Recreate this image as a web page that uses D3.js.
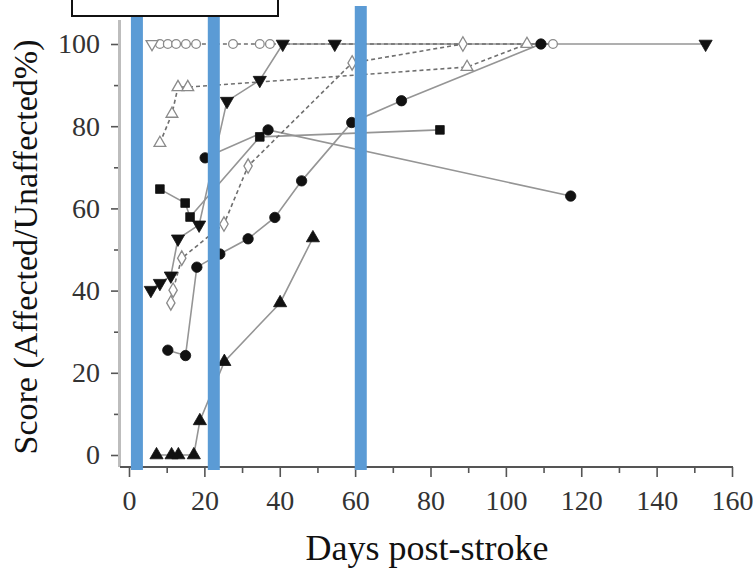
<!DOCTYPE html>
<html>
<head>
<meta charset="utf-8">
<script src="https://cdn.jsdelivr.net/npm/d3@7/dist/d3.min.js"></script>
<style>
  html, body { margin: 0; padding: 0; background: #fff; }
  svg { display: block; }
  svg text { font-family: "Liberation Serif", "Times New Roman", Times, "DejaVu Serif", serif; }
</style>
</head>
<body>
<svg id="chart" width="753" height="573"></svg>
<script>
// ---- data ----
const xTicks = [0, 20, 40, 60, 80, 100, 120, 140, 160];
const xMinorTicks = [10, 30, 50, 70, 90, 110, 130, 150];
const yTicks = [0, 20, 40, 60, 80, 100];
const yMinorTicks = [10, 30, 50, 70, 90];
const markerDays = [2.1, 22.5, 61.5];

// filled markers, solid lines
const s1Days = [7.3, 11.3, 13.1, 17.2, 18.8, 25.3, 40.1, 48.8];
const s1Vals = [0, 0, 0, 0, 8.3, 22.7, 37, 52.8];
const s2Days = [10.3, 15, 18, 24.1, 31.6, 38.7, 45.8, 59.1, 72.3, 109.3];
const s2Vals = [25.5, 24.2, 45.7, 48.9, 52.6, 57.8, 66.7, 80.9, 86.2, 100];
const s3Days = [5.8, 8.2, 11.1, 13, 18.6, 26, 34.7, 40.8, 54.6, 153];
const s3Vals = [40.1, 41.8, 43.6, 52.6, 56, 86.1, 91.2, 100, 100, 100];
const s4Days = [8.2, 14.9, 16.2, 34.7, 82.5];
const s4Vals = [64.7, 61.3, 57.9, 77.4, 79.1];
const s5Days = [20.2, 36.9, 117.2];
const s5Vals = [72.3, 79.1, 63];

// open markers, dashed lines
const d1Days = [11.1, 11.7, 14, 25.2, 31.6, 59.2, 88.6];
const d1Vals = [37, 40.1, 47.9, 56.2, 70.3, 95.4, 100];
const d2Days = [8.2, 11.4, 13, 15.6, 89.7, 105.6];
const d2Vals = [75.9, 83, 89.5, 89.5, 94.4, 100];
const d3Days = [8.2, 10.3, 12.5, 15.1, 17.8, 27.6, 34.7, 37.4, 112.5];
const d3Vals = [100, 100, 100, 100, 100, 100, 100, 100, 100];
const d4Days = [6.1];
const d4Vals = [100];

const series = [
  {days: s1Days, vals: s1Vals, sym: d3.symbolTriangle, filled: true, dashed: false},
  {days: s2Days, vals: s2Vals, sym: d3.symbolCircle, filled: true, dashed: false},
  {days: s3Days, vals: s3Vals, sym: "down", filled: true, dashed: false},
  {days: s4Days, vals: s4Vals, sym: d3.symbolSquare, filled: true, dashed: false},
  {days: s5Days, vals: s5Vals, sym: d3.symbolCircle, filled: true, dashed: false},
  {days: d1Days, vals: d1Vals, sym: d3.symbolDiamond, filled: false, dashed: true},
  {days: d2Days, vals: d2Vals, sym: d3.symbolTriangle, filled: false, dashed: true},
  {days: d3Days, vals: d3Vals, sym: d3.symbolCircle, filled: false, dashed: true},
  {days: d4Days, vals: d4Vals, sym: "down", filled: false, dashed: true}
];

const FONT = '"Liberation Serif", "Times New Roman", Times, "DejaVu Serif", serif';

// ---- layout ----
const svg = d3.select("#chart");
const x = d3.scaleLinear().domain([0, 160]).range([129, 732]);
const y = d3.scaleLinear().domain([0, 100]).range([455, 44]);
const axisY = 467, axisX = 118;

// lines
const line = d3.line().x(d => x(d[0])).y(d => y(d[1]));
series.forEach(s => {
  const pts = s.days.map((d, i) => [d, s.vals[i]]);
  svg.append("path")
    .attr("d", line(pts))
    .attr("fill", "none")
    .attr("stroke", s.dashed ? "#6f6f6f" : "#959595")
    .attr("stroke-width", 1.6)
    .attr("stroke-dasharray", s.dashed ? "4,3" : null);
});

// markers
function symPath(sym, size) {
  if (sym === "down") return d3.symbol().type(d3.symbolTriangle).size(size)();
  return d3.symbol().type(sym).size(size)();
}
series.forEach(s => {
  s.days.forEach((d, i) => {
    const size = s.filled ? (s.sym === d3.symbolCircle ? 85 : 75) : 60;
    svg.append("path")
      .attr("d", symPath(s.sym, size))
      .attr("transform", `translate(${x(d)},${y(s.vals[i])})` + (s.sym === "down" ? " rotate(180)" : ""))
      .attr("fill", s.filled ? "#111" : "#fff")
      .attr("stroke", s.filled ? "#111" : "#8a8a8a")
      .attr("stroke-width", s.filled ? 0.8 : 1.3);
  });
});

// y axis line (light gray)
svg.append("line").attr("x1", 119.5).attr("x2", 119.5).attr("y1", 20).attr("y2", axisY)
  .attr("stroke", "#bdbdbd").attr("stroke-width", 3);

// y axis ticks + labels
const yAx = svg.append("g").attr("transform", `translate(${axisX},0)`)
  .call(d3.axisLeft(y).tickValues(yTicks).tickSize(7).tickPadding(11));
const yMin = svg.append("g").attr("transform", `translate(${axisX},0)`)
  .call(d3.axisLeft(y).tickValues(yMinorTicks).tickSize(4).tickFormat(""));

// x axis line
svg.append("line").attr("x1", 120).attr("x2", 733).attr("y1", axisY).attr("y2", axisY)
  .attr("stroke", "#555").attr("stroke-width", 2.2);
const xAx = svg.append("g").attr("transform", `translate(0,${axisY})`)
  .call(d3.axisBottom(x).tickValues(xTicks).tickSize(10).tickPadding(13));
const xMin = svg.append("g").attr("transform", `translate(0,${axisY})`)
  .call(d3.axisBottom(x).tickValues(xMinorTicks).tickSize(6).tickFormat(""));

[yAx, yMin, xAx, xMin].forEach(g => {
  g.attr("font-family", FONT).attr("font-size", 28);
  g.select(".domain").remove();
  g.selectAll(".tick line").attr("stroke", "#555").attr("stroke-width", 1.6);
  g.selectAll(".tick text").attr("fill", "#333")
    .attr("font-family", FONT).style("font-family", FONT).style("font-size", "28px");
});

// blue annotation bars (on top)
markerDays.forEach((d, i) => {
  svg.append("rect")
    .attr("x", x(d) - 6).attr("width", 12)
    .attr("y", i === 2 ? 6 : 8).attr("height", axisY + 3 - (i === 2 ? 6 : 8))
    .attr("fill", "#5b9bd5");
});

// cropped legend box
svg.append("rect").attr("x", 72).attr("y", -10).attr("width", 206).attr("height", 26)
  .attr("fill", "#fff").attr("stroke", "#111").attr("stroke-width", 2);

// titles
svg.append("text").attr("x", 427).attr("y", 560).attr("text-anchor", "middle")
  .style("font-family", FONT).style("font-size", "36px").attr("fill", "#111").text("Days post-stroke");
svg.append("text").attr("transform", "translate(37,247) rotate(-90)")
  .attr("text-anchor", "middle").style("font-family", FONT).style("font-size", "34px").attr("fill", "#111")
  .text("Score (Affected/Unaffected%)");
</script>
</body>
</html>
